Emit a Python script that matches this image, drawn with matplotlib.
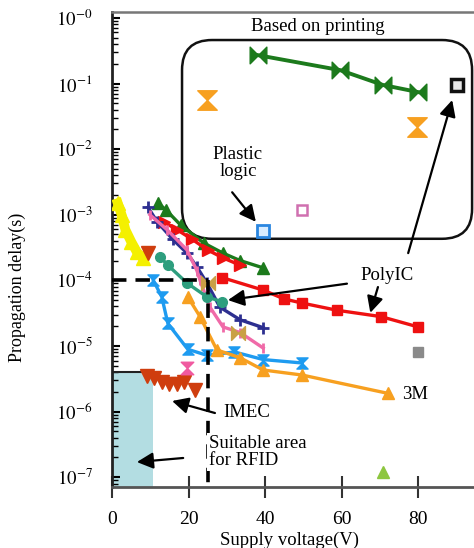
import matplotlib
matplotlib.use('Agg')
from matplotlib import pyplot as plt
from matplotlib.path import Path
from matplotlib.patches import FancyBboxPatch

plt.rcParams['font.family'] = ['Liberation Serif', 'DejaVu Serif']
plt.rcParams['mathtext.fontset'] = 'stix'

# data (x = supply voltage V, y = propagation delay s)
yellow_x = [1.5, 2.5, 3.5, 5, 6.5, 8]
yellow_y = [1.5e-3, 1.0e-3, 5.9e-4, 3.9e-4, 2.7e-4, 2.2e-4]

green_x = [12, 14, 18, 24, 29, 33.5, 39.5]
green_y = [1.5e-3, 1.2e-3, 6.9e-4, 3.7e-4, 2.6e-4, 2.0e-4, 1.55e-4]

red_x = [13.5, 17, 21, 25, 29, 33.5]
red_y = [7.8e-4, 5.9e-4, 4.2e-4, 2.9e-4, 2.2e-4, 1.7e-4]

navy_x = [9.4, 11.8, 15.9, 19.6, 22.2, 24.8, 28.2, 33.5, 39.5]
navy_y = [1.3e-3, 7.8e-4, 4.2e-4, 2.6e-4, 1.6e-4, 9.1e-5, 3.9e-5, 2.5e-5, 1.9e-5]

pink_x = [9.9, 14.4, 19.6, 22.2, 23.0, 25.6, 29.0, 33.5, 39.5]
pink_y = [1.0e-3, 5.9e-4, 2.9e-4, 1.4e-4, 1.0e-4, 3.9e-5, 1.95e-5, 1.6e-5, 9.3e-6]

teal_x = [12.5, 14.6, 19.6, 24.8, 28.8]
teal_y = [2.3e-4, 1.7e-4, 9.1e-5, 5.6e-5, 4.7e-5]

polyic_x = [28.8, 39.5, 45, 49.7, 58.8, 70.3, 80]
polyic_y = [1.1e-4, 7.1e-5, 5.2e-5, 4.5e-5, 3.5e-5, 2.8e-5, 1.95e-5]

ltblue_x = [10.8, 13, 14.6, 19.8, 24.8, 32, 39.5, 49.7]
ltblue_y = [1.0e-4, 5.6e-5, 2.2e-5, 8.9e-6, 7.2e-6, 8.1e-6, 6.2e-6, 5.5e-6]

m3_x = [19.8, 23, 27.4, 33.5, 39.5, 49.7, 72]
m3_y = [5.6e-5, 2.8e-5, 8.7e-6, 6.6e-6, 4.3e-6, 3.6e-6, 1.9e-6]

imec_x = [9.2, 11, 13, 15, 17, 18.8, 21.7, 9.4]
imec_y = [3.5e-6, 3.2e-6, 2.8e-6, 2.6e-6, 2.6e-6, 2.8e-6, 2.1e-6, 2.6e-4]

gold_x = [25.1, 33]
gold_y = [9.1e-5, 1.6e-5]

printed_x = [38.2, 59.6, 70.8, 80]
printed_y = [0.27, 0.16, 0.095, 0.074]

orange_hg_x = [24.8, 79.7]
orange_hg_y = [0.056, 0.022]

pink_hg_x = [19.6]
pink_hg_y = [4.6e-6]

plastic_x = [39.5]
plastic_y = [5.6e-4]
pinksq_x = [49.7]
pinksq_y = [1.2e-3]
graysq_x = [80]
graysq_y = [8.1e-6]
blacksq_x = [90.2]
blacksq_y = [0.095]
lime_x = [70.8]
lime_y = [1.2e-7]

# limits / guide lines
rfid_v, rfid_t = 10.7, 4.0e-6
guide_v, guide_t = 25, 1e-4
box_x = (18.3, 94.1)
box_y = (4.3e-4, 0.46)

yticks = [1e0, 1e-1, 1e-2, 1e-3, 1e-4, 1e-5, 1e-6, 1e-7]
ylabels = ['$10^{-0}$', '$10^{-1}$', '$10^{-2}$', '$10^{-3}$',
           '$10^{-4}$', '$10^{-5}$', '$10^{-6}$', '$10^{-7}$']
xticks = [0, 20, 40, 60, 80]

C = Path.CLOSEPOLY
L = Path.LINETO
M = Path.MOVETO
hourglass = Path([(-1, 1), (1, 1), (0, 0), (1, -1), (-1, -1), (0, 0), (-1, 1)],
                 [M, L, L, L, L, L, C])
bowtie = Path([(-1, -1), (-1, 1), (0, 0), (1, 1), (1, -1), (0, 0), (-1, -1)],
              [M, L, L, L, L, L, C])

fig = plt.figure(dpi=100, figsize=(4.74, 5.48))
ax = fig.add_axes([0.2363, 0.1113, 0.7637, 0.8668])
ax.set_yscale('log')
ax.set_xlim(0, 94.6)
ax.set_ylim(10 ** -7.15, 10 ** 0.09)

# suitable area for RFID
ax.fill_between([0, rfid_v], 1e-8, rfid_t, color='#b3dde2', lw=0, zorder=1)
ax.plot([0, rfid_v], [rfid_t, rfid_t], color='#222222', lw=1.5, zorder=2)

# dashed guide
ax.plot([0, guide_v], [guide_t, guide_t], color='black', lw=2.6,
        dashes=(4, 2.5), zorder=6)
ax.plot([guide_v, guide_v], [guide_t, 1e-8], color='black', lw=2.6,
        dashes=(4, 2.5), zorder=6)

lw = 2.4
ax.plot(yellow_x, yellow_y, color='#f4f000', lw=7, marker='^', ms=10, zorder=3)
ax.plot(green_x, green_y, color='#1c7a1c', lw=lw, marker='^', ms=8, zorder=3)
ax.plot(red_x, red_y, color='#ee1111', lw=lw, marker='>', ms=8, zorder=3)
ax.plot(navy_x, navy_y, color='#2d2f90', lw=lw, marker='+', ms=8, mew=2, zorder=4)
ax.plot(pink_x, pink_y, color='#f06aa8', lw=lw, marker='|', ms=7, mew=2, zorder=4)
ax.plot(teal_x, teal_y, color='#2e9e7e', lw=lw, marker='o', ms=7, zorder=4)
ax.plot(polyic_x, polyic_y, color='#ee1111', lw=lw, marker='s', ms=7, zorder=4)
ax.plot(ltblue_x, ltblue_y, color='#1e9bf0', lw=lw, marker=hourglass, ms=8, zorder=4)
ax.plot(m3_x, m3_y, color='#f7a020', lw=lw, marker='^', ms=9, zorder=4)
ax.plot(imec_x, imec_y, color='#cf3d0e', lw=0, marker='v', ms=10, zorder=4)
ax.plot(gold_x, gold_y, color='#c9a046', lw=0, marker=bowtie, ms=10, zorder=5)
ax.plot(printed_x, printed_y, color='#1c7a1c', lw=2.8, marker=bowtie, ms=12,
        mfc='#1c7a1c', mec='#1c7a1c', zorder=4)
ax.plot(orange_hg_x, orange_hg_y, color='#f7a020', lw=0, marker=hourglass, ms=14, zorder=4)
ax.plot(pink_hg_x, pink_hg_y, color='#f05aa0', lw=0, marker=hourglass, ms=9, zorder=4)
ax.plot(plastic_x, plastic_y, lw=0, marker='s', ms=8, mfc='#d8ecff', mec='#2a86e0',
        mew=2, zorder=4)
ax.plot(pinksq_x, pinksq_y, lw=0, marker='s', ms=7, mfc='white', mec='#d070b0',
        mew=1.8, zorder=4)
ax.plot(graysq_x, graysq_y, lw=0, marker='s', ms=7, color='#8a8a8a', zorder=4)
ax.plot(blacksq_x, blacksq_y, lw=0, marker='s', ms=8, mfc='#e8e8e8', mec='#111111',
        mew=2.5, zorder=4)
ax.plot(lime_x, lime_y, lw=0, marker='^', ms=9, color='#8dc63f', zorder=4)

# rounded box around the printed devices, drawn in inches so corners stay round
fig.canvas.draw()
p0 = ax.transData.transform((box_x[0], box_y[0]))
p1 = ax.transData.transform((box_x[1], box_y[1]))
inv = fig.dpi_scale_trans.inverted()
(x0, y0), (x1, y1) = inv.transform(p0), inv.transform(p1)
box = FancyBboxPatch((x0, y0), x1 - x0, y1 - y0,
                     boxstyle='round,pad=0,rounding_size=0.3',
                     transform=fig.dpi_scale_trans, fill=False,
                     ec='#111111', lw=1.8, clip_on=False, zorder=2)
ax.add_patch(box)

# labels and arrows
tsize = 13.5
wbox = dict(facecolor='white', edgecolor='none', pad=1.5)
ax.text(53.9, 0.73, 'Based on printing', fontsize=tsize, ha='center', va='center',
        bbox=wbox, zorder=7)
ax.text(32.9, 6.2e-3, 'Plastic\nlogic', fontsize=tsize, ha='center', va='center',
        linespacing=1.0, bbox=wbox, zorder=7)
ax.text(71.9, 1.2e-4, 'PolyIC', fontsize=tsize, ha='center', va='center',
        bbox=wbox, zorder=7)
ax.text(79.2, 1.8e-6, '3M', fontsize=tsize, ha='center', va='center',
        bbox=wbox, zorder=7)
ax.text(35.3, 9.8e-7, 'IMEC', fontsize=tsize, ha='center', va='center',
        bbox=wbox, zorder=7)
ax.text(25.4, 2.4e-7, 'Suitable area\nfor RFID', fontsize=tsize, ha='left',
        va='center', linespacing=1.0, bbox=wbox, zorder=7)

arrows = [
    ((31.4, 2.2e-3), (37.6, 7.8e-4)),
    ((61.4, 8.9e-5), (30.3, 5.0e-5)),
    ((69.5, 7.9e-5), (67.5, 3.2e-5)),
    ((77.4, 2.6e-4), (88.9, 0.056)),
    ((26.9, 9.5e-7), (15.7, 1.45e-6)),
    ((18.6, 1.96e-7), (6.5, 1.7e-7)),
]
for tail, head in arrows:
    ax.annotate('', xy=head, xytext=tail,
                arrowprops=dict(arrowstyle='-|>,head_length=0.7,head_width=0.35',
                                color='black', lw=1.6, mutation_scale=14,
                                shrinkA=0, shrinkB=0),
                zorder=8)

# axes styling
ax.spines['right'].set_visible(False)
ax.spines['top'].set_color('#777777')
ax.spines['top'].set_linewidth(1.8)
ax.spines['left'].set_color('#222222')
ax.spines['left'].set_linewidth(2)
ax.spines['bottom'].set_color('#555555')
ax.spines['bottom'].set_linewidth(2)

ax.set_yticks(yticks)
ax.set_yticklabels(ylabels)
ax.set_xticks(xticks)
ax.tick_params(axis='y', which='major', direction='in', length=6, width=1.5,
               labelsize=13.5, pad=14)
ax.tick_params(axis='y', which='minor', direction='in', length=4, width=1)
ax.tick_params(axis='x', which='major', direction='inout', length=16, width=1.5,
               labelsize=14, pad=9, color='#333333')

fig.text(17 / 474, 1 - 287 / 548, 'Propagation delay(s)', rotation=90,
         fontsize=13, ha='center', va='center')
fig.text(290 / 474, 1 - 540 / 548, 'Supply voltage(V)', fontsize=13.5,
         ha='center', va='center')

plt.savefig('out.png', dpi=100)
